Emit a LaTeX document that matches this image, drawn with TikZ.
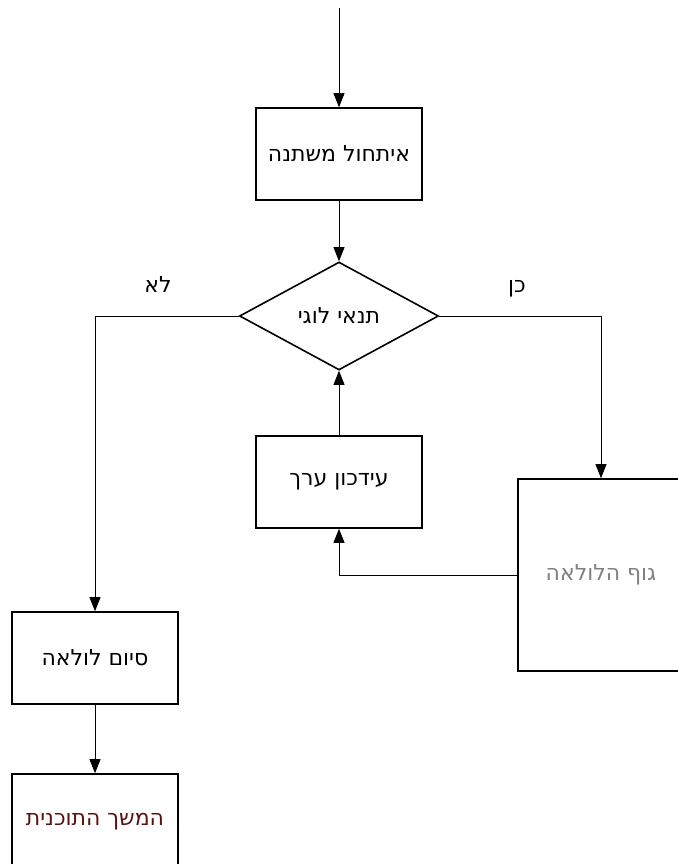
\documentclass[tikz,border=0pt]{standalone}
\usepackage{fontspec}
\usetikzlibrary{arrows.meta,shapes.geometric}
\TeXXeTstate=1
\newfontfamily\hebfont[Script=Hebrew]{DejaVu Sans}
\definecolor{graytxt}{RGB}{128,128,128}
\definecolor{darkred}{RGB}{88,18,18}
\begin{document}
\begin{tikzpicture}[x=1pt,y=-1pt,
  hfont/.style={font=\fontsize{22}{26}\selectfont\hebfont},
  box/.style={draw,line width=1.6pt,minimum width=166pt,minimum height=92pt,inner sep=0pt,hfont},
  dia/.style={draw,diamond,line width=1.6pt,minimum width=199pt,minimum height=108pt,inner sep=0pt,hfont},
  conn/.style={line width=0.8pt},
  arr/.style={conn,-{Triangle[length=14pt,width=11pt]}},
  lbl/.style={hfont,anchor=base,inner sep=0pt}]
\useasboundingbox (0,0) rectangle (677,864);
\coordinate (start) at (339,8);
\node[box] (init) at (339,154) {\beginR איתחול משתנה\endR};
\node[dia] (cond) at (339,316) {\beginR תנאי לוגי\endR};
\node[box] (upd) at (339,482) {\beginR עידכון ערך\endR};
\node[box,minimum height=192pt] (body) at (601,575) {\color{graytxt}\beginR גוף הלולאה\endR};
\node[box] (end) at (95,658) {\beginR סיום לולאה\endR};
\node[box,minimum height=96pt] (cont) at (95,822) {\color{darkred}\beginR המשך התוכנית\endR};
\node[lbl] (no) at (158,292) {\beginR לא\endR};
\node[lbl] (yes) at (517,292) {\beginR כן\endR};
\draw[arr] (start) -- (init.north);
\draw[arr] (init.south) -- (cond.north);
\draw[arr] (cond.west) -| (end.north);
\draw[arr] (cond.east) -| (body.north);
\draw[arr] (body.west) -| (upd.south);
\draw[arr] (upd.north) -- (cond.south);
\draw[arr] (end.south) -- (cont.north);
\end{tikzpicture}
\end{document}
